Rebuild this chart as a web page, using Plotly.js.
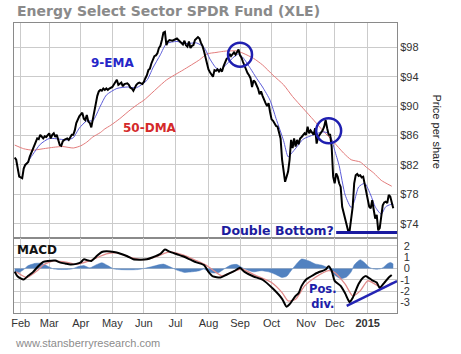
<!DOCTYPE html>
<html><head><meta charset="utf-8">
<script src="https://cdn.plot.ly/plotly-3.0.1.min.js"></script>
<style>html,body{margin:0;padding:0;background:#fff;}#chart{width:461px;height:354px;}</style>
</head><body><div id="chart"></div>
<script>
// ---------- DATA ----------
const priceDates = ["2014-01-28","2014-01-29","2014-01-31","2014-02-04","2014-02-05","2014-02-06","2014-02-07","2014-02-10","2014-02-11","2014-02-12","2014-02-13","2014-02-14","2014-02-18","2014-02-19","2014-02-20","2014-02-21","2014-02-25","2014-02-26","2014-02-27","2014-02-28",
"2014-03-03","2014-03-04","2014-03-05","2014-03-06","2014-03-07","2014-03-10","2014-03-11","2014-03-12","2014-03-13","2014-03-14","2014-03-17","2014-03-19","2014-03-20","2014-03-21","2014-03-24","2014-03-25","2014-03-26","2014-03-27","2014-03-28","2014-03-31",
"2014-04-02","2014-04-03","2014-04-04","2014-04-07","2014-04-08","2014-04-09","2014-04-10","2014-04-11","2014-04-14","2014-04-15","2014-04-16","2014-04-17","2014-04-21","2014-04-22","2014-04-23","2014-04-24","2014-04-25","2014-04-28","2014-04-29",
"2014-05-01","2014-05-02","2014-05-05","2014-05-06","2014-05-07","2014-05-08","2014-05-09","2014-05-12","2014-05-13","2014-05-15","2014-05-16","2014-05-19","2014-05-20","2014-05-21","2014-05-22","2014-05-23","2014-05-27","2014-05-28","2014-05-30",
"2014-06-02","2014-06-03","2014-06-04","2014-06-05","2014-06-06","2014-06-09","2014-06-10","2014-06-11","2014-06-12","2014-06-13","2014-06-16","2014-06-17","2014-06-18","2014-06-19","2014-06-20","2014-06-23","2014-06-24","2014-06-25","2014-06-27","2014-06-30",
"2014-07-01","2014-07-02","2014-07-03","2014-07-07","2014-07-08","2014-07-09","2014-07-10","2014-07-11","2014-07-14","2014-07-15","2014-07-16","2014-07-17","2014-07-18","2014-07-21","2014-07-23","2014-07-24","2014-07-25","2014-07-28","2014-07-29","2014-07-30","2014-07-31",
"2014-08-01","2014-08-04","2014-08-05","2014-08-06","2014-08-07","2014-08-08","2014-08-11","2014-08-12","2014-08-13","2014-08-14","2014-08-15","2014-08-18","2014-08-19","2014-08-20","2014-08-21","2014-08-22","2014-08-26","2014-08-27","2014-08-28","2014-08-29",
"2014-09-02","2014-09-03","2014-09-04","2014-09-05","2014-09-08","2014-09-09","2014-09-10","2014-09-11","2014-09-12","2014-09-15","2014-09-16","2014-09-17","2014-09-18","2014-09-19","2014-09-22","2014-09-23","2014-09-24","2014-09-25","2014-09-26","2014-09-29","2014-09-30",
"2014-10-01","2014-10-02","2014-10-03","2014-10-06","2014-10-07","2014-10-08","2014-10-09","2014-10-10","2014-10-13","2014-10-14","2014-10-15","2014-10-16","2014-10-17","2014-10-20","2014-10-21","2014-10-22","2014-10-23","2014-10-24","2014-10-27","2014-10-28","2014-10-29","2014-10-30","2014-10-31",
"2014-11-03","2014-11-04","2014-11-05","2014-11-06","2014-11-07","2014-11-10","2014-11-11","2014-11-12","2014-11-13","2014-11-14","2014-11-17","2014-11-18","2014-11-19","2014-11-20","2014-11-21","2014-11-24","2014-11-25","2014-11-26","2014-11-28",
"2014-12-01","2014-12-02","2014-12-03","2014-12-04","2014-12-05","2014-12-08","2014-12-09","2014-12-10","2014-12-11","2014-12-12","2014-12-15","2014-12-16","2014-12-17","2014-12-18","2014-12-19","2014-12-22","2014-12-23","2014-12-24","2014-12-26","2014-12-29","2014-12-30","2014-12-31",
"2015-01-02","2015-01-05","2015-01-06","2015-01-07","2015-01-08","2015-01-09","2015-01-12","2015-01-13","2015-01-14","2015-01-15","2015-01-16","2015-01-20","2015-01-21","2015-01-22","2015-01-23","2015-01-26","2015-01-27","2015-01-28"];
const priceValues = [83.0,82.7,80.4,80.2,81.5,82.0,82.2,82.4,83.1,83.6,84.3,84.7,85.3,85.6,85.5,86.1,85.6,85.9,85.8,86.1,
86.3,85.6,86.1,86.3,85.8,86.1,85.2,84.7,84.6,85.2,85.4,85.6,85.4,85.8,86.1,86.1,86.7,87.7,88.1,88.6,
89.1,88.3,88.1,88.8,87.9,87.7,87.1,88.1,89.5,90.6,91.4,92.0,92.2,92.1,92.4,92.2,92.4,92.2,92.4,
92.6,92.9,93.3,93.6,92.9,93.0,93.2,92.7,93.0,93.1,92.9,92.5,92.4,92.1,92.6,92.9,93.1,93.2,93.0,
93.3,93.8,94.2,94.9,95.1,95.8,96.4,96.8,96.9,97.2,97.9,98.2,99.0,100.0,100.1,98.3,98.8,99.0,98.9,99.0,
99.1,99.2,99.0,98.8,98.5,98.4,98.9,98.3,98.1,98.8,97.9,98.2,98.3,99.0,99.4,99.2,98.6,98.2,97.5,96.5,95.7,
95.0,94.6,94.2,94.0,94.9,94.8,95.0,94.7,95.0,94.7,95.4,95.9,96.4,96.6,97.1,96.8,97.3,97.0,97.4,97.7,
96.9,96.6,96.0,95.4,94.9,94.5,94.2,93.8,92.6,93.5,93.3,92.9,92.4,91.6,92.0,91.4,90.8,90.4,90.0,90.4,89.2,
88.2,88.0,87.7,87.3,87.2,86.3,85.6,82.7,81.1,79.7,80.4,81.1,82.7,85.4,84.3,85.6,84.5,85.4,84.8,85.6,85.8,86.1,86.3,
86.1,87.2,86.3,86.7,86.4,86.1,87.0,84.9,85.8,86.1,86.3,86.7,87.2,88.1,87.0,86.1,86.1,84.5,80.4,
79.5,80.85,80.4,79.5,79.0,76.3,75.5,74.95,74.0,73.0,73.1,74.5,76.3,79.5,80.6,80.76,80.5,80.6,80.3,80.4,79.4,78.1,
77.0,76.3,76.1,77.2,75.9,74.7,75.2,73.1,73.4,75.4,76.5,76.9,77.0,76.8,77.9,77.7,77.0,76.1];

const emaDates = ["2014-02-05","2014-02-13","2014-02-21","2014-03-03","2014-03-12","2014-03-19","2014-03-25","2014-03-31","2014-04-07","2014-04-11","2014-04-21","2014-04-25","2014-05-06","2014-05-15","2014-05-23","2014-06-04","2014-06-10","2014-06-17","2014-06-23","2014-07-02","2014-07-11","2014-07-22","2014-07-29","2014-08-04","2014-08-08","2014-08-13","2014-08-19","2014-08-26","2014-08-29","2014-09-04","2014-09-11","2014-09-17","2014-09-23","2014-09-30","2014-10-06","2014-10-13","2014-10-16","2014-10-20","2014-10-24","2014-10-30","2014-11-10","2014-11-18","2014-11-24","2014-11-26","2014-12-01","2014-12-04","2014-12-10","2014-12-16","2014-12-18","2014-12-23","2014-12-30","2015-01-06","2015-01-09","2015-01-15","2015-01-21","2015-01-26","2015-01-28"];
const ema9 = [81.6,83.4,84.8,85.6,85.5,85.4,85.7,87.0,88.0,88.0,90.0,91.5,92.4,92.6,92.5,93.5,95.2,97.0,98.5,98.8,98.5,98.6,98.0,96.4,95.2,94.9,95.7,96.7,97.1,96.6,95.1,93.8,92.6,90.8,88.3,85.3,83.1,83.5,84.5,85.5,86.1,86.5,86.3,85.5,84.0,81.9,77.9,76.2,77.0,79.0,79.5,77.9,76.3,75.3,76.3,76.6,76.6];

const dmaDates = ["2014-01-28","2014-02-05","2014-02-13","2014-02-25","2014-03-06","2014-03-14","2014-03-25","2014-04-01","2014-04-07","2014-04-11","2014-04-21","2014-04-24","2014-04-30","2014-05-08","2014-05-19","2014-05-28","2014-06-02","2014-06-23","2014-07-09","2014-07-24","2014-07-31","2014-08-08","2014-08-13","2014-08-19","2014-08-28","2014-09-04","2014-09-15","2014-09-23","2014-10-02","2014-10-13","2014-10-21","2014-10-30","2014-11-10","2014-11-18","2014-11-28","2014-12-09","2014-12-16","2014-12-24","2014-12-31","2015-01-08","2015-01-15","2015-01-27"];
const dma50 = [84.7,84.2,84.0,84.2,84.4,84.5,84.3,84.6,85.1,85.8,86.4,86.9,87.4,88.3,89.5,90.4,90.8,93.55,94.9,96.3,97.1,97.3,97.4,97.5,97.5,97.2,96.5,95.6,94.2,92.9,91.3,89.7,88.1,86.7,85.2,83.6,82.7,82.4,81.7,80.9,79.9,79.1];

const macdDates = ["2014-01-28","2014-01-30","2014-02-05","2014-02-10","2014-02-13","2014-02-20","2014-02-25","2014-02-28","2014-03-07","2014-03-12","2014-03-18","2014-03-21","2014-03-27","2014-04-01","2014-04-03","2014-04-08","2014-04-10","2014-04-16","2014-04-22","2014-04-25","2014-05-02","2014-05-08","2014-05-15","2014-05-21","2014-05-28","2014-06-04","2014-06-10","2014-06-17","2014-06-20","2014-06-25","2014-07-02","2014-07-09","2014-07-16","2014-07-22","2014-07-29","2014-08-01","2014-08-06","2014-08-13","2014-08-19","2014-08-26","2014-08-29","2014-09-02","2014-09-05","2014-09-15","2014-09-23","2014-10-02","2014-10-10","2014-10-15","2014-10-17","2014-10-23","2014-10-27","2014-10-29","2014-11-03","2014-11-10","2014-11-13","2014-11-20","2014-11-24","2014-11-26","2014-12-01","2014-12-05","2014-12-10","2014-12-15","2014-12-17","2014-12-23","2014-12-29","2014-12-31","2015-01-07","2015-01-12","2015-01-14","2015-01-20","2015-01-23","2015-01-27"];
const macdValues = [-0.28,-0.71,-0.97,-0.65,-0.35,0.24,0.58,0.66,0.70,0.53,0.42,0.35,0.40,0.53,0.80,0.70,0.66,1.13,1.45,1.51,1.45,1.32,1.07,0.80,0.77,0.80,0.98,1.28,1.66,1.48,1.25,1.07,0.77,0.53,0.30,-0.30,-0.71,-0.80,-0.56,-0.24,0.0,0.05,-0.30,-0.71,-1.0,-1.8,-2.68,-3.37,-3.16,-2.42,-2.18,-1.54,-0.98,-0.56,-0.36,-0.10,0.20,-0.20,-1.10,-1.54,-2.20,-2.98,-2.60,-1.35,-0.80,-0.68,-1.05,-1.24,-1.72,-1.27,-0.80,-0.58];

const signalDates = ["2014-01-29","2014-02-07","2014-02-19","2014-02-25","2014-03-06","2014-03-19","2014-03-27","2014-04-09","2014-04-25","2014-05-06","2014-05-19","2014-06-02","2014-06-13","2014-06-25","2014-07-09","2014-07-22","2014-07-31","2014-08-05","2014-08-14","2014-08-27","2014-09-03","2014-09-16","2014-10-01","2014-10-10","2014-10-16","2014-10-23","2014-10-31","2014-11-11","2014-11-24","2014-12-01","2014-12-10","2014-12-17","2014-12-24","2015-01-02","2015-01-13","2015-01-20","2015-01-27"];
const signalValues = [-0.30,-0.80,-0.20,0.30,0.66,0.53,0.35,0.68,1.28,1.37,0.98,0.77,1.07,1.45,1.19,0.68,0.24,-0.05,-0.65,-0.20,-0.05,-0.59,-1.24,-2.13,-2.87,-2.72,-1.54,-0.80,-0.20,-0.36,-1.39,-2.42,-1.98,-1.09,-1.54,-1.69,-1.24];

const histDates = ["2014-01-28","2014-01-31","2014-02-05","2014-02-10","2014-02-18","2014-02-24","2014-02-28","2014-03-06","2014-03-14","2014-03-24","2014-03-28","2014-04-03","2014-04-09","2014-04-15","2014-04-22","2014-04-28","2014-05-02","2014-05-14","2014-05-27","2014-06-04","2014-06-12","2014-06-19","2014-06-26","2014-07-02","2014-07-10","2014-07-17","2014-07-24","2014-07-29","2014-08-01","2014-08-06","2014-08-12","2014-08-18","2014-08-22","2014-08-28","2014-09-03","2014-09-08","2014-09-15","2014-09-22","2014-09-29","2014-10-06","2014-10-10","2014-10-15","2014-10-20","2014-10-23","2014-10-29","2014-11-05","2014-11-11","2014-11-17","2014-11-20","2014-11-24","2014-11-28","2014-12-05","2014-12-11","2014-12-16","2014-12-18","2014-12-24","2014-12-30","2015-01-05","2015-01-08","2015-01-14","2015-01-16","2015-01-22","2015-01-26","2015-01-28"];
const histValues = [-0.30,-0.35,-0.10,0.25,0.45,0.45,0.20,-0.05,-0.10,-0.05,0.15,0.25,0.05,0.30,0.50,0.25,-0.05,-0.12,-0.10,0.05,0.25,0.38,0.10,-0.15,-0.35,-0.30,-0.20,-0.05,-0.30,-0.40,-0.35,0.0,0.30,0.35,0.10,-0.10,-0.30,-0.20,-0.30,-0.55,-0.80,-0.70,-0.20,0.30,0.83,0.65,0.40,0.30,0.15,0.0,-0.50,-0.90,-0.75,-0.30,0.30,0.77,0.50,0.10,-0.05,-0.05,0.05,0.40,0.53,0.40];

const monthTicks = ["2014-02-03","2014-03-03","2014-04-01","2014-05-01","2014-06-02","2014-07-01","2014-08-01","2014-09-02","2014-10-01","2014-11-03","2014-12-01","2015-01-02"];
const monthLabels = ["Feb","Mar","Apr","May","Jun","Jul","Aug","Sep","Oct","Nov","Dec","<b>2015</b>"];
const priceTicks = [74,78,82,86,90,94,98];
const priceTickLabels = ["$74","$78","$82","$86","$90","$94","$98"];
const macdTicks = [2,1,0,-1,-2,-3];
const macdTickLabels = ["\u20042","\u20041","\u20040","-1","-2","-3"];
const marketHolidays = ["2014-02-17","2014-04-18","2014-05-26","2014-07-04","2014-09-01","2014-11-27","2014-12-25","2015-01-01","2015-01-19"];

// ---------- CHART ----------
const xStart = "2014-01-27 13:00", xEnd = "2015-01-30 12:00";
const boldFont = '"DejaVu Sans", Verdana, sans-serif';
const smooth = {shape:'spline', smoothing:0.6};

const traces = [
  {x: dmaDates, y: dma50, type:'scatter', mode:'lines', line:Object.assign({color:'#e27b7b', width:1}, smooth), xaxis:'x', yaxis:'y', hoverinfo:'skip'},
  {x: emaDates, y: ema9, type:'scatter', mode:'lines', line:Object.assign({color:'#5b5bd8', width:1}, smooth), xaxis:'x', yaxis:'y', hoverinfo:'skip'},
  {x: priceDates, y: priceValues, type:'scatter', mode:'lines', line:{color:'#000', width:2}, xaxis:'x', yaxis:'y', hoverinfo:'skip'},
  {x: histDates, y: histValues, type:'scatter', mode:'lines', fill:'tozeroy', fillcolor:'#5282c0', line:Object.assign({color:'#5282c0', width:0.5}, smooth), xaxis:'x', yaxis:'y2', hoverinfo:'skip'},
  {x: signalDates, y: signalValues, type:'scatter', mode:'lines', line:Object.assign({color:'#e08a8a', width:1.3}, smooth), xaxis:'x', yaxis:'y2', hoverinfo:'skip'},
  {x: macdDates, y: macdValues, type:'scatter', mode:'lines', line:Object.assign({color:'#000', width:2}, smooth), xaxis:'x', yaxis:'y2', hoverinfo:'skip'}
];

const gridC = '#cbcbcb', lineC = '#8a8a8a';
const layout = {
  width: 461, height: 354,
  margin: {l:14, r:64, t:23, b:41, pad:0},
  paper_bgcolor:'#ffffff', plot_bgcolor:'#ffffff',
  showlegend:false,
  font: {family:'"Liberation Sans", Arial, sans-serif', size:11, color:'#333'},
  title: {text:'<b>Energy Select Sector SPDR Fund (XLE)</b>', font:{family:boldFont, size:14, color:'#8a8a8a'},
          x: 17/461, xanchor:'left', xref:'container', y: 1 - 11/354, yanchor:'middle', yref:'container'},
  xaxis: {type:'date', anchor:'y2', range:[xStart, xEnd],
          rangebreaks:[{bounds:['sat','mon']},{values:marketHolidays}],
          tickmode:'array', tickvals:monthTicks, ticktext:monthLabels,
          showgrid:true, gridcolor:gridC, gridwidth:1, zeroline:false,
          showline:true, mirror:'all', linecolor:lineC, linewidth:1, ticks:'',
          tickfont:{size:11, color:'#333'}, fixedrange:true},
  yaxis: {domain:[0.257,1], range:[71.99,101.31], side:'right', anchor:'x',
          tickmode:'array', tickvals:priceTicks, ticktext:priceTickLabels,
          showgrid:true, gridcolor:gridC, zeroline:false,
          showline:true, mirror:true, linecolor:lineC, linewidth:1, ticks:'',
          tickfont:{size:11, color:'#333'}, fixedrange:true},
  yaxis2: {domain:[0,0.257], range:[-3.93,2.64], side:'right', anchor:'x',
          tickmode:'array', tickvals:macdTicks, ticktext:macdTickLabels,
          showgrid:true, gridcolor:gridC, zeroline:false,
          showline:true, mirror:true, linecolor:lineC, linewidth:1, ticks:'',
          tickfont:{size:11, color:'#333'}, fixedrange:true},
  shapes: [
    {type:'circle', xref:'x', yref:'y', xsizemode:'pixel', ysizemode:'pixel', xanchor:'2014-09-02', yanchor:97.0,
     x0:-12, x1:12, y0:-12, y1:12, line:{color:'#1f1fb0', width:2.5}},
    {type:'circle', xref:'x', yref:'y', xsizemode:'pixel', ysizemode:'pixel', xanchor:'2014-11-24', yanchor:86.64,
     x0:-12.5, x1:12.5, y0:-12.5, y1:12.5, line:{color:'#1f1fb0', width:2.5}},
    {type:'line', xref:'x', yref:'y', x0:'2014-12-02', x1:xEnd, y0:72.8, y1:72.8, line:{color:'#1a1aa0', width:3}},
    {type:'line', xref:'x', yref:'y2', x0:'2014-12-11', x1:xEnd, y0:-3.3, y1:-1.12, line:{color:'#2424b4', width:2.5}}
  ],
  annotations: [
    {text:'<b>9-EMA</b>', xref:'x', yref:'y', x:'2014-05-01', y:95.82, showarrow:false, font:{family:boldFont, size:12, color:'#2626c8'}},
    {text:'<b>50-DMA</b>', xref:'x', yref:'y', x:'2014-06-06', y:86.98, showarrow:false, font:{family:boldFont, size:12, color:'#d42a2a'}},
    {text:'<b>MACD</b>', xref:'x', yref:'y2', x:'2014-02-19', y:1.66, showarrow:false, font:{family:boldFont, size:12, color:'#111'}},
    {text:'<b>Double Bottom?</b>', xref:'x', yref:'y', x:'2014-10-07', y:73.07, showarrow:false, font:{family:boldFont, size:12.5, color:'#1c1c9e'}},
    {text:'<b>Pos.<br>div.</b>', xref:'x', yref:'y2', x:'2014-11-18', y:-2.47, showarrow:false, font:{family:boldFont, size:11.5, color:'#2020aa'}},
    {text:'Price per share', xref:'paper', yref:'paper', x:1.102, xanchor:'center', y:0.626, yanchor:'middle', textangle:90, showarrow:false, font:{size:11, color:'#222'}},
    {text:'www.stansberryresearch.com', xref:'paper', yref:'paper', x:-0.003, xanchor:'left', y:-0.103, yanchor:'middle', showarrow:false, font:{size:11, color:'#8c8c8c'}}
  ]
};

Plotly.newPlot('chart', traces, layout, {staticPlot:true, displayModeBar:false});
</script>
</body></html>
